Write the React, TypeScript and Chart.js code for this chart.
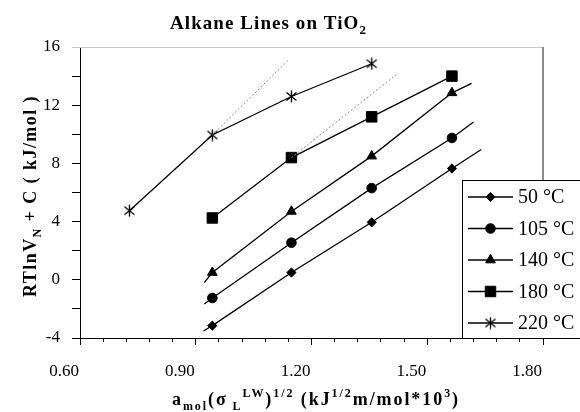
import React, { useEffect, useRef } from 'react';
import { Chart, registerables } from 'chart.js';
import { drawPoint } from 'chart.js/helpers';

Chart.register(...registerables);

// ---- data ----
const seriesLabels = ['50 °C', '105 °C', '140 °C', '180 °C', '220 °C'];
const xC6toC9 = [0.943, 1.148, 1.356, 1.564];
const xC5toC8 = [0.728, 0.943, 1.148, 1.356];
const y50 = [-3.15, 0.5, 3.95, 7.65];
const y105 = [-1.25, 2.55, 6.3, 9.75];
const y140 = [0.5, 4.7, 8.5, 12.85];
const y180 = [4.25, 8.4, 11.2, 14.0];
const y220 = [4.75, 9.95, 12.6, 14.85];

// linear trend-line ends (backward / forward forecast)
const trend50X = [0.92, 1.64];
const trend50Y = [-3.52, 8.95];
const trend105X = [0.922, 1.62];
const trend105Y = [-1.66, 10.85];
const trend140X = [0.922, 1.615];
const trend140Y = [-0.2, 13.5];
// dotted extrapolations
const dotted180X = [1.148, 1.419];
const dotted180Y = [8.4, 14.08];
const dotted220X = [0.943, 1.14];
const dotted220Y = [9.95, 15.1];

// axes
const xMajorTicks = [0.6, 0.9, 1.2, 1.5, 1.8];
const xTickLabels = ['0.60', '0.90', '1.20', '1.50', '1.80'];
const xMinorPerMajor = 5;
const yTicks = [-4, -2, 0, 2, 4, 6, 8, 10, 12, 14, 16];
const yTickLabels = ['-4', '0', '4', '8', '12', '16'];

const FONT = "'Liberation Serif', 'Times New Roman', serif";

type Seg = { t: string; k: 'n' | 'sub' | 'sup' };
const titleSegs: Seg[] = [
  { t: 'Alkane Lines on TiO', k: 'n' },
  { t: '2', k: 'sub' },
];
const yTitleSegs: Seg[] = [
  { t: 'RTlnV', k: 'n' },
  { t: 'N', k: 'sub' },
  { t: ' + C ( kJ/mol )', k: 'n' },
];
const xTitleSegs: Seg[] = [
  { t: 'a', k: 'n' },
  { t: 'mol', k: 'sub' },
  { t: '(σ', k: 'n' },
  { t: ' L', k: 'sub' },
  { t: 'LW', k: 'sup' },
  { t: ')', k: 'n' },
  { t: '1/2', k: 'sup' },
  { t: ' (kJ', k: 'n' },
  { t: '1/2', k: 'sup' },
  { t: 'm/mol*10', k: 'n' },
  { t: '3', k: 'sup' },
  { t: ')', k: 'n' },
];

const pts = (xs: number[], ys: number[]) => xs.map((x, i) => ({ x, y: ys[i] }));

function segFont(k: string, size: number) {
  const s = k === 'n' ? size : Math.round(size * 0.66);
  return `bold ${s}px ${FONT}`;
}

function drawRich(ctx: CanvasRenderingContext2D, segs: Seg[], size: number, target: number) {
  (ctx as any).letterSpacing = '0px';
  const widths: number[] = [];
  let w0 = 0;
  let n = 0;
  for (const s of segs) {
    ctx.font = segFont(s.k, size);
    const w = ctx.measureText(s.t).width;
    widths.push(w);
    w0 += w;
    n += s.t.length;
  }
  let sp = (target - w0) / n;
  sp = Math.max(-1, Math.min(4, sp));
  const total = w0 + sp * n;
  let x = -total / 2;
  (ctx as any).letterSpacing = sp + 'px';
  ctx.textAlign = 'left';
  ctx.textBaseline = 'alphabetic';
  segs.forEach((s, i) => {
    ctx.font = segFont(s.k, size);
    const dy = s.k === 'sub' ? size * 0.28 : s.k === 'sup' ? -size * 0.42 : 0;
    ctx.fillText(s.t, x, dy);
    x += widths[i] + sp * s.t.length;
  });
  (ctx as any).letterSpacing = '0px';
}

function makeStar(): HTMLCanvasElement {
  const c = document.createElement('canvas');
  c.width = 13;
  c.height = 13;
  const g = c.getContext('2d')!;
  g.strokeStyle = '#000';
  g.lineWidth = 1.3;
  g.beginPath();
  g.moveTo(6.5, 0.5);
  g.lineTo(6.5, 12.5);
  g.moveTo(1.5, 2.5);
  g.lineTo(11.5, 10.5);
  g.moveTo(11.5, 2.5);
  g.lineTo(1.5, 10.5);
  g.stroke();
  return c;
}

const isMajorX = (v: number) => xMajorTicks.some((m) => Math.abs(m - v) < 1e-6);

export default function App() {
  const ref = useRef<HTMLCanvasElement>(null);
  useEffect(() => {
    document.body.style.margin = '0';
    const star = makeStar();
    const markers: any[] = [
      { pointStyle: 'rectRot', radius: 4.6 },
      { pointStyle: 'circle', radius: 4.8 },
      { pointStyle: 'triangle', radius: 5.6 },
      { pointStyle: 'rect', radius: 7.4 },
      { pointStyle: star, radius: 6 },
    ];
    const seriesXs = [xC6toC9, xC6toC9, xC6toC9, xC6toC9, xC5toC8];
    const seriesYs = [y50, y105, y140, y180, y220];

    const lineDs = (data: any[], dotted: boolean, width = 1.3) => ({
      type: 'line' as const,
      data,
      showLine: true,
      borderColor: dotted ? '#8a8a8a' : '#000',
      borderWidth: dotted ? 1 : width,
      borderDash: dotted ? [2, 2] : [],
      pointRadius: 0,
      pointHoverRadius: 0,
      fill: false,
    });

    // trend-line stubs: from the forecast end to the first / last data point
    const stubs = (tx: number[], ty: number[], xs: number[], ys: number[]) => [
      lineDs([{ x: tx[0], y: ty[0] }, { x: xs[0], y: ys[0] }], false),
      lineDs([{ x: xs[xs.length - 1], y: ys[ys.length - 1] }, { x: tx[1], y: ty[1] }], false),
    ];

    const datasets: any[] = [
      ...stubs(trend50X, trend50Y, xC6toC9, y50),
      ...stubs(trend105X, trend105Y, xC6toC9, y105),
      ...stubs(trend140X, trend140Y, xC6toC9, y140),
      lineDs(pts(dotted180X, dotted180Y), true),
      lineDs(pts(dotted220X, dotted220Y), true),
      ...seriesLabels.map((label, i) => ({
        type: 'line' as const,
        label,
        data: pts(seriesXs[i], seriesYs[i]),
        showLine: true,
        borderColor: '#000',
        borderWidth: 1.3,
        backgroundColor: '#000',
        pointBackgroundColor: '#000',
        pointBorderColor: '#000',
        pointBorderWidth: 1,
        pointStyle: markers[i].pointStyle,
        pointRadius: markers[i].radius,
        pointHoverRadius: markers[i].radius,
        fill: false,
        tension: 0,
      })),
    ];

    const xTickValues: number[] = [];
    for (let i = 0; i < xMajorTicks.length - 1; i++) {
      const a = xMajorTicks[i];
      const step = (xMajorTicks[i + 1] - a) / xMinorPerMajor;
      for (let j = 0; j < xMinorPerMajor; j++) xTickValues.push(+(a + j * step).toFixed(4));
    }
    xTickValues.push(xMajorTicks[xMajorTicks.length - 1]);

    const decor = {
      id: 'decor',
      afterDraw(chart: any) {
        const ctx: CanvasRenderingContext2D = chart.ctx;
        const ca = chart.chartArea;
        ctx.save();
        // plot-area top and right borders
        ctx.strokeStyle = '#c8c8c8';
        ctx.lineWidth = 1;
        ctx.beginPath();
        ctx.moveTo(ca.left - 8, Math.round(ca.top) + 0.5);
        ctx.lineTo(ca.right, Math.round(ca.top) + 0.5);
        ctx.stroke();
        ctx.strokeStyle = '#666';
        ctx.lineWidth = 1.5;
        ctx.beginPath();
        ctx.moveTo(ca.right, ca.top);
        ctx.lineTo(ca.right, 180);
        ctx.stroke();

        // legend box
        const lx = 462.5, ly = 180.5, lb = Math.round(ca.bottom) + 0.5;
        ctx.fillStyle = '#fff';
        ctx.fillRect(lx, ly, 140, lb - ly - 1);
        ctx.strokeStyle = '#000';
        ctx.lineWidth = 1;
        ctx.strokeRect(lx, ly, 140, lb - ly);
        seriesLabels.forEach((label, i) => {
          const y = 197 + i * 31.5;
          ctx.strokeStyle = '#000';
          ctx.lineWidth = 1.3;
          ctx.beginPath();
          ctx.moveTo(468, y);
          ctx.lineTo(513, y);
          ctx.stroke();
          ctx.fillStyle = '#000';
          ctx.strokeStyle = '#000';
          ctx.lineWidth = 1;
          drawPoint(ctx, { pointStyle: markers[i].pointStyle, radius: markers[i].radius, borderWidth: 1, rotation: 0 } as any, 490.5, y);
          ctx.fillStyle = '#000';
          ctx.font = `20px ${FONT}`;
          ctx.textAlign = 'left';
          ctx.textBaseline = 'middle';
          ctx.fillText(label, 518, y + 1);
        });

        ctx.fillStyle = '#000';
        // title
        ctx.save();
        ctx.translate(268.5, 29);
        drawRich(ctx, titleSegs, 19, 197);
        ctx.restore();
        // y title
        ctx.save();
        ctx.translate(36, 196);
        ctx.rotate(-Math.PI / 2);
        drawRich(ctx, yTitleSegs, 18, 202);
        ctx.restore();
        // x title
        ctx.save();
        ctx.translate(316, 405);
        drawRich(ctx, xTitleSegs, 18, 288);
        ctx.restore();
        ctx.restore();
      },
    };

    const chart = new Chart(ref.current!, {
      type: 'scatter',
      data: { datasets },
      options: {
        responsive: false,
        animation: false,
        devicePixelRatio: 1,
        events: [],
        layout: { padding: { top: 47, right: 37, left: 0, bottom: 0 } },
        plugins: {
          legend: { display: false },
          tooltip: { enabled: false },
          title: { display: false },
        },
        scales: {
          x: {
            type: 'linear',
            position: 'bottom',
            min: xMajorTicks[0],
            max: xMajorTicks[xMajorTicks.length - 1],
            afterBuildTicks: (s: any) => {
              s.ticks = xTickValues.map((v) => ({ value: v }));
            },
            afterFit: (s: any) => {
              s.height = 74;
            },
            grid: {
              drawOnChartArea: false,
              drawTicks: true,
              tickLength: 7,
              tickColor: '#000',
              tickWidth: 1,
              tickBorderDash: (c: any) => (c.tick && isMajorX(c.tick.value) ? [] : [3, 30]),
            },
            border: { color: '#000', width: 1 },
            ticks: {
              autoSkip: false,
              maxRotation: 0,
              minRotation: 0,
              labelOffset: -16,
              padding: 16,
              color: '#000',
              font: { family: FONT, size: 17 },
              callback: (v: any) => {
                const idx = xMajorTicks.findIndex((m) => Math.abs(m - Number(v)) < 1e-6);
                return idx >= 0 ? xTickLabels[idx] : '';
              },
            },
          },
          y: {
            type: 'linear',
            min: yTicks[0],
            max: yTicks[yTicks.length - 1],
            afterBuildTicks: (s: any) => {
              s.ticks = yTicks.map((v) => ({ value: v }));
            },
            afterFit: (s: any) => {
              s.width = 80;
            },
            grid: {
              drawOnChartArea: false,
              drawTicks: true,
              tickLength: 8,
              tickColor: (c: any) => (c.tick && c.tick.value === yTicks[yTicks.length - 1] ? '#c8c8c8' : '#000'),
              tickWidth: 1,
            },
            border: { color: '#000', width: 1 },
            ticks: {
              autoSkip: false,
              padding: 12,
              color: '#000',
              font: { family: FONT, size: 17 },
              callback: (v: any) => {
                const s = String(v);
                return yTickLabels.includes(s) ? s : '';
              },
            },
          },
        },
      },
      plugins: [decor],
    } as any);
    return () => chart.destroy();
  }, []);
  return <canvas ref={ref} width={580} height={412} style={{ display: 'block' }} />;
}
